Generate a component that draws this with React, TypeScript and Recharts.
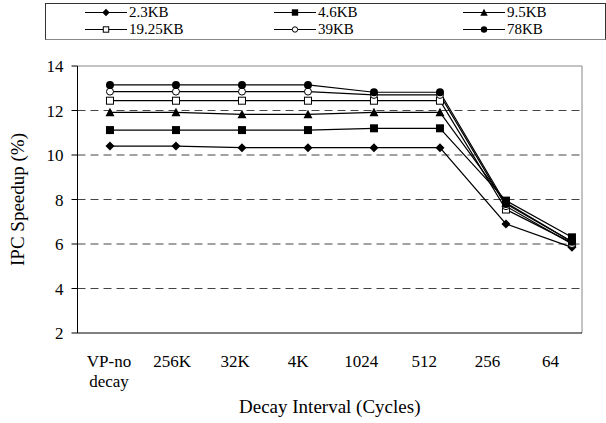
import React from 'react';
import { LineChart, Line, XAxis, YAxis, ReferenceLine } from 'recharts';

// decay intervals on the x axis
const categories = ['VP-no decay', '256K', '32K', '4K', '1024', '512', '256', '64'];
const yTicks = [2, 4, 6, 8, 10, 12, 14];
const gridLevels = [4, 6, 8, 10, 12];

// IPC speedup (%) per predictor size
const kb2_3 = [10.4, 10.4, 10.33, 10.33, 10.33, 10.33, 6.9, 5.85];
const kb4_6 = [11.12, 11.12, 11.12, 11.12, 11.2, 11.2, 7.95, 6.3];
const kb9_5 = [11.92, 11.92, 11.83, 11.83, 11.92, 11.92, 7.85, 6.1];
const kb19_25 = [12.44, 12.44, 12.44, 12.44, 12.44, 12.44, 7.55, 6.05];
const kb39 = [12.85, 12.85, 12.85, 12.85, 12.7, 12.7, 7.7, 6.0];
const kb78 = [13.15, 13.15, 13.15, 13.15, 12.82, 12.82, 7.8, 6.1];

type MarkerKind = 'diamond' | 'square' | 'triangle' | 'openSquare' | 'openCircle' | 'circle';

const series: { key: string; name: string; values: number[]; marker: MarkerKind }[] = [
    { key: 'kb2_3', name: '2.3KB', values: kb2_3, marker: 'diamond' },
    { key: 'kb4_6', name: '4.6KB', values: kb4_6, marker: 'square' },
    { key: 'kb9_5', name: '9.5KB', values: kb9_5, marker: 'triangle' },
    { key: 'kb19_25', name: '19.25KB', values: kb19_25, marker: 'openSquare' },
    { key: 'kb39', name: '39KB', values: kb39, marker: 'openCircle' },
    { key: 'kb78', name: '78KB', values: kb78, marker: 'circle' },
];

const rows = categories.map((label, i) => {
    const row: Record<string, any> = { label, idx: i };
    series.forEach(s => { row[s.key] = s.values[i]; });
    return row;
});

const FONT = '"Liberation Serif", "Times New Roman", serif';

function Marker({ cx, cy, kind, r = 4 }: { cx: number; cy: number; kind: MarkerKind; r?: number }) {
    switch (kind) {
        case 'diamond':
            return <path d={`M${cx},${cy - r - 0.5}L${cx + r + 0.5},${cy}L${cx},${cy + r + 0.5}L${cx - r - 0.5},${cy}Z`} fill="#000" />;
        case 'square':
            return <rect x={cx - r} y={cy - r} width={r * 2} height={r * 2} fill="#000" />;
        case 'triangle':
            return <path d={`M${cx},${cy - r - 0.5}L${cx + r + 0.5},${cy + r}L${cx - r - 0.5},${cy + r}Z`} fill="#000" />;
        case 'openSquare':
            return <rect x={cx - r + 0.5} y={cy - r + 0.5} width={r * 2 - 1} height={r * 2 - 1} fill="#fff" stroke="#000" strokeWidth={1} />;
        case 'openCircle':
            return <circle cx={cx} cy={cy} r={r - 0.5} fill="#fff" stroke="#000" strokeWidth={1} />;
        default:
            return <circle cx={cx} cy={cy} r={r} fill="#000" />;
    }
}

function CategoryTick(props: any) {
    const { x, y, payload } = props;
    const parts = String(payload.value).split(' ');
    return (
        <text x={x} y={y} textAnchor="middle" fontFamily={FONT} fontSize={17} fill="#000">
            {parts.map((p, i) => (
                <tspan key={i} x={x} dy={i === 0 ? 34 : 20}>{p}</tspan>
            ))}
        </text>
    );
}

function XTitle(props: any) {
    const { x, y, width } = props.viewBox;
    return (
        <text x={x + width / 2} y={y + 80} textAnchor="middle" fontFamily={FONT} fontSize={19} fill="#000">
            Decay Interval (Cycles)
        </text>
    );
}

function YTitle(props: any) {
    const { x, y, height } = props.viewBox;
    const cx = x + 6;
    const cy = y + height / 2;
    return (
        <text x={cx} y={cy} transform={`rotate(-90, ${cx}, ${cy})`} textAnchor="middle" fontFamily={FONT} fontSize={19} fill="#000">
            IPC Speedup (%)
        </text>
    );
}

// legend columns, three per row
const legendCols = [85, 274, 463];

function ChartLegend() {
    return (
        <div style={{
            position: 'absolute', left: 45, top: 3, width: 559, height: 35,
            border: '1px solid #333', borderBottomColor: '#888', background: '#fff',
        }}>
            {series.map((s, i) => {
                const col = i % 3;
                const row = Math.floor(i / 3);
                const left = legendCols[col] - 46;
                const top = row === 0 ? 1 : 18;
                return (
                    <div key={s.key} style={{ position: 'absolute', left, top, height: 15, display: 'flex', alignItems: 'center' }}>
                        <svg width={44} height={15} style={{ display: 'block' }}>
                            <line x1={0} y1={7.5} x2={42} y2={7.5} stroke="#000" strokeWidth={1.2} />
                            <Marker cx={21} cy={7.5} kind={s.marker} r={3.2} />
                        </svg>
                        <span style={{ fontFamily: FONT, fontSize: 15, lineHeight: '15px', color: '#000' }}>{s.name}</span>
                    </div>
                );
            })}
        </div>
    );
}

export default function App() {
    return (
        <div style={{ position: 'absolute', left: 0, top: 0, width: 606, height: 423, background: '#fff' }}>
            <ChartLegend />
            <LineChart
                width={606}
                height={423}
                data={rows}
                margin={{ top: 66, right: 24, left: 17.5, bottom: 0 }}
            >
                {/* boundary tick marks, Excel style */}
                <XAxis
                    xAxisId="edge"
                    dataKey="idx"
                    type="number"
                    domain={[0, 8]}
                    ticks={[0, 1, 2, 3, 4, 5, 6, 7, 8]}
                    allowDataOverflow
                    tick={false}
                    tickSize={6}
                    tickLine={{ stroke: '#000' }}
                    axisLine={false}
                    height={0}
                />
                <XAxis
                    xAxisId="cat"
                    dataKey="label"
                    type="category"
                    scale="band"
                    tick={<CategoryTick />}
                    tickLine={false}
                    tickSize={0}
                    tickMargin={0}
                    axisLine={{ stroke: '#000' }}
                    interval={0}
                    height={90}
                    label={<XTitle />}
                />
                {/* point positions */}
                <XAxis
                    xAxisId="pts"
                    dataKey="idx"
                    type="number"
                    domain={[-0.492, 7.152]}
                    allowDataOverflow
                    hide
                />
                <YAxis
                    domain={[2, 14]}
                    ticks={yTicks}
                    width={60}
                    tickSize={6}
                    tickMargin={8}
                    tickLine={{ stroke: '#000' }}
                    axisLine={{ stroke: '#000' }}
                    tick={{ fill: '#000', fontFamily: FONT, fontSize: 17 }}
                    allowDataOverflow
                    label={<YTitle />}
                />

                {gridLevels.map(v => (
                    <ReferenceLine key={v} xAxisId="edge" y={v} stroke="#444" strokeDasharray="8 5" />
                ))}
                <ReferenceLine xAxisId="edge" y={14} stroke="#888" />
                <ReferenceLine xAxisId="edge" x={8} stroke="#888" />

                {series.map(s => (
                    <Line
                        key={s.key}
                        xAxisId="pts"
                        dataKey={s.key}
                        name={s.name}
                        type="linear"
                        stroke="#000"
                        strokeWidth={1.2}
                        isAnimationActive={false}
                        dot={(p: any) => <Marker key={`${s.key}-${p.index}`} cx={p.cx} cy={p.cy} kind={s.marker} />}
                        activeDot={false}
                    />
                ))}
            </LineChart>
        </div>
    );
}
